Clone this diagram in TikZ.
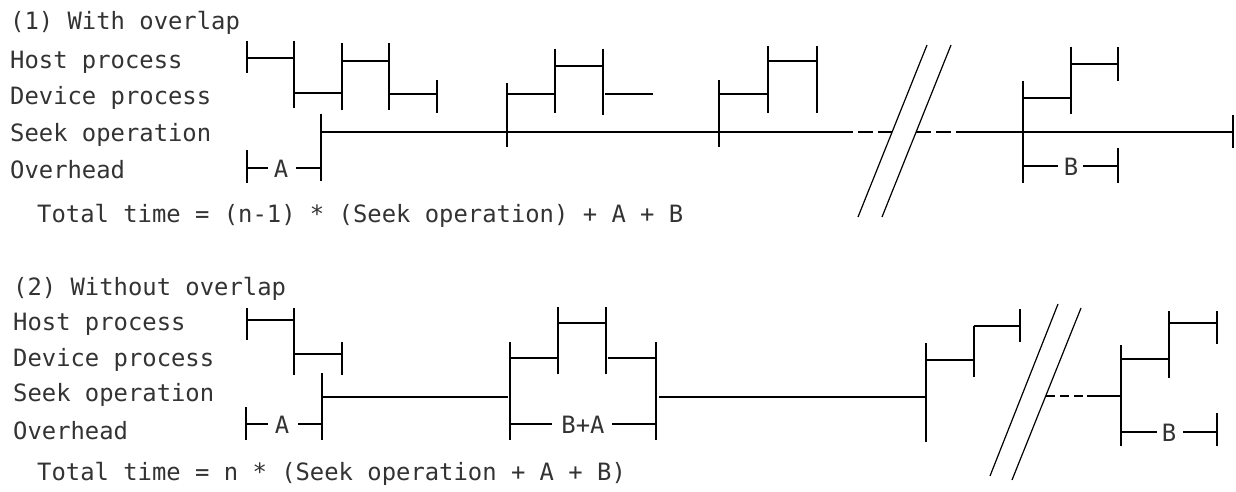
\documentclass[tikz,border=0pt]{standalone}
\usepackage{fontspec}
\newfontfamily\diagmono{DejaVu Sans Mono}
\begin{document}
\begin{tikzpicture}[x=1pt,y=-1pt,
  ln/.style={line width=1.4pt, line cap=butt},
  dsh/.style={line width=1.4pt, dash pattern=on 15pt off 5pt},
  dshb/.style={line width=1.4pt, dash pattern=on 9pt off 5pt},
  lbl/.style={font=\diagmono\fontsize{23.85}{28}\selectfont, anchor=base west, inner sep=0pt, text=black!80},
  mid/.style={font=\diagmono\fontsize{23.85}{28}\selectfont, anchor=base, inner sep=0pt, text=black!80}]
\useasboundingbox (0,0) rectangle (1236,492);

% ---------- Section 1 labels ----------
\node[lbl] (t1) at (10,30) {(1) With overlap};
\node[lbl] (h1) at (10,69) {Host process};
\node[lbl] (d1) at (10,105) {Device process};
\node[lbl] (s1) at (10,141) {Seek operation};
\node[lbl] (o1) at (10,178) {Overhead};
\node[lbl] (tt1) at (37,222) {Total time = (n-1) * (Seek operation) + A + B};

% ---------- Section 1 drawing ----------
% first staircase
\draw[ln] (247,41) -- (247,73);
\draw[ln] (247,58) -- (294,58);
\draw[ln] (294,41) -- (294,108);
\draw[ln] (294,93) -- (342,93);
\draw[ln] (342,43) -- (342,110);
\draw[ln] (342,61) -- (389,61);
\draw[ln] (389,43) -- (389,110);
\draw[ln] (389,94) -- (437,94);
\draw[ln] (437,80) -- (437,113);
% seek start + overhead A
\draw[ln] (321,114) -- (321,181);
\draw[ln] (321,132) -- (838,132);
\draw[ln] (247,150) -- (247,183);
\draw[ln] (247,168) -- (268,168);
\node[mid] (a1) at (281,177) {A};
\draw[ln] (296,168) -- (321,168);
% second staircase
\draw[ln] (507,83) -- (507,147);
\draw[ln] (507,94) -- (555,94);
\draw[ln] (555,49) -- (555,113);
\draw[ln] (555,66) -- (603,66);
\draw[ln] (603,49) -- (603,115);
\draw[ln] (605,94) -- (653,94);
% third staircase
\draw[ln] (719,80) -- (719,147);
\draw[ln] (719,94) -- (768,94);
\draw[ln] (768,46) -- (768,113);
\draw[ln] (768,61) -- (817,61);
\draw[ln] (817,46) -- (817,113);
% break
\draw[dsh] (838,132) -- (892,132);
\draw[dsh] (916,132) -- (965,132);
\draw[line width=1.2pt] (927,45) -- (858,217);
\draw[line width=1.2pt] (951,45) -- (882,217);
\draw[ln] (965,132) -- (1233,132);
\draw[ln] (1233,115) -- (1233,148);
% final staircase
\draw[ln] (1023,81) -- (1023,183);
\draw[ln] (1023,98) -- (1071,98);
\draw[ln] (1071,47) -- (1071,114);
\draw[ln] (1071,64) -- (1118,64);
\draw[ln] (1118,47) -- (1118,81);
\draw[ln] (1023,166) -- (1058,166);
\node[mid] (b1) at (1071,175) {B};
\draw[ln] (1083,166) -- (1118,166);
\draw[ln] (1118,148) -- (1118,183);

% ---------- Section 2 labels ----------
\node[lbl] (t2) at (13,295) {(2) Without overlap};
\node[lbl] (h2) at (13,330) {Host process};
\node[lbl] (d2) at (13,366) {Device process};
\node[lbl] (s2) at (13,401) {Seek operation};
\node[lbl] (o2) at (13,439) {Overhead};
\node[lbl] (tt2) at (37,480) {Total time = n * (Seek operation + A + B)};

% ---------- Section 2 drawing ----------
\draw[ln] (247,308) -- (247,340);
\draw[ln] (247,320) -- (294,320);
\draw[ln] (294,308) -- (294,375);
\draw[ln] (294,354) -- (342,354);
\draw[ln] (342,342) -- (342,375);
\draw[ln] (322,373) -- (322,440);
\draw[ln] (322,397) -- (508,397);
\draw[ln] (246,407) -- (246,440);
\draw[ln] (246,424) -- (268,424);
\node[mid] (a2) at (282,433) {A};
\draw[ln] (298,424) -- (322,424);
% middle group
\draw[ln] (510,342) -- (510,440);
\draw[ln] (510,358) -- (558,358);
\draw[ln] (558,307) -- (558,374);
\draw[ln] (558,323) -- (606,323);
\draw[ln] (606,307) -- (606,374);
\draw[ln] (608,358) -- (656,358);
\draw[ln] (656,342) -- (656,440);
\draw[ln] (510,424) -- (552,424);
\node[mid] (ba2) at (583,433) {B+A};
\draw[ln] (612,424) -- (656,424);
\draw[ln] (659,397) -- (926,397);
% right of middle
\draw[ln] (926,343) -- (926,442);
\draw[ln] (926,360) -- (974,360);
\draw[ln] (974,326) -- (974,377);
\draw[ln] (974,326) -- (1020,326);
\draw[ln] (1020,309) -- (1020,342);
% break
\draw[line width=1.2pt] (1058,304) -- (990,476);
\draw[line width=1.2pt] (1081,308) -- (1012,480);
\draw[dshb] (1046,396) -- (1087,396);
\draw[ln] (1087,396) -- (1121,396);
% final group
\draw[ln] (1121,345) -- (1121,446);
\draw[ln] (1121,359) -- (1169,359);
\draw[ln] (1169,311) -- (1169,378);
\draw[ln] (1169,323) -- (1217,323);
\draw[ln] (1217,311) -- (1217,344);
\draw[ln] (1121,432) -- (1157,432);
\node[mid] (b2) at (1169,441) {B};
\draw[ln] (1183,432) -- (1217,432);
\draw[ln] (1217,413) -- (1217,446);
\end{tikzpicture}
\end{document}
